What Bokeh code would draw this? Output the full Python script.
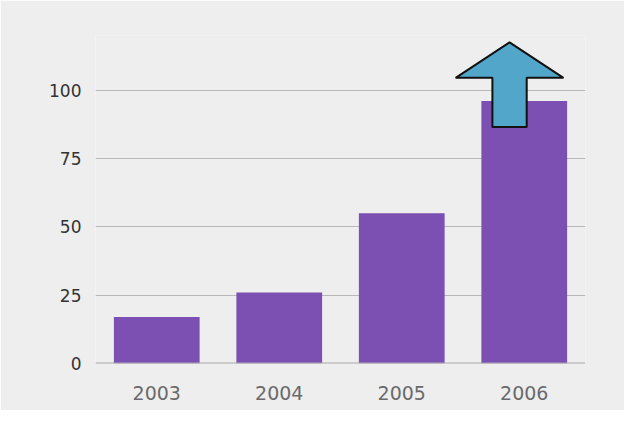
from bokeh.plotting import figure
from bokeh.models import Range1d, FixedTicker, ColumnDataSource, Span
from bokeh.embed import file_html
from bokeh.resources import INLINE

years = ["2003", "2004", "2005", "2006"]
values = [17, 26, 55, 96]
y_ticks = [0, 25, 50, 75, 100]

# arrow shape (relative to last bar), in data units
arrow_dx = -0.12
arrow_head_half = 0.44
arrow_shaft_half = 0.14
arrow_tip = 117.5
arrow_head_base = 104.5
arrow_shaft_bottom = 86.5

xs = [i + 0.5 for i in range(len(years))]

p = figure(width=624, height=410, output_backend="svg", toolbar_location=None,
           x_range=Range1d(0, 4), y_range=Range1d(0, 120),
           min_border_left=95, min_border_right=39, min_border_top=35, min_border_bottom=47)
p.background_fill_color = "#eeeeee"
p.border_fill_color = "#eeeeee"
p.outline_line_color = None

src = ColumnDataSource(dict(x=xs, top=values))
p.vbar(x="x", top="top", width=0.7, bottom=0, source=src,
       fill_color="#7b50b2", line_color=None)

# up arrow over last bar
cx = xs[-1] + arrow_dx
ax = [cx, cx + arrow_head_half, cx + arrow_shaft_half, cx + arrow_shaft_half,
      cx - arrow_shaft_half, cx - arrow_shaft_half, cx - arrow_head_half]
ay = [arrow_tip, arrow_head_base, arrow_head_base, arrow_shaft_bottom,
      arrow_shaft_bottom, arrow_head_base, arrow_head_base]
p.patch(ax, ay, fill_color="#51a6c9", line_color="#111111", line_width=2)

p.add_layout(Span(location=0, dimension="width", line_color="#a8a8a8", line_width=2))

p.xaxis.ticker = FixedTicker(ticks=xs)
p.xaxis.major_label_overrides = {x: y for x, y in zip(xs, years)}
p.xaxis.axis_line_color = None
p.xaxis.major_tick_line_color = None
p.xaxis.minor_tick_line_color = None
p.xaxis.major_label_standoff = 16
p.xaxis.major_label_text_font = "DejaVu Sans"
p.xaxis.major_label_text_font_size = "19px"
p.xaxis.major_label_text_color = "#6a6a6a"

p.yaxis.ticker = FixedTicker(ticks=y_ticks)
p.yaxis.axis_line_color = None
p.yaxis.major_tick_line_color = None
p.yaxis.minor_tick_line_color = None
p.yaxis.major_label_standoff = 8
p.yaxis.major_label_text_font = "DejaVu Sans"
p.yaxis.major_label_text_font_size = "17px"
p.yaxis.major_label_text_color = "#333333"

p.xgrid.grid_line_color = None
p.ygrid.ticker = FixedTicker(ticks=y_ticks[1:])
p.ygrid.grid_line_color = "#b8b8b8"
p.ygrid.grid_line_width = 1

open("out.html", "w").write(file_html(p, INLINE))
